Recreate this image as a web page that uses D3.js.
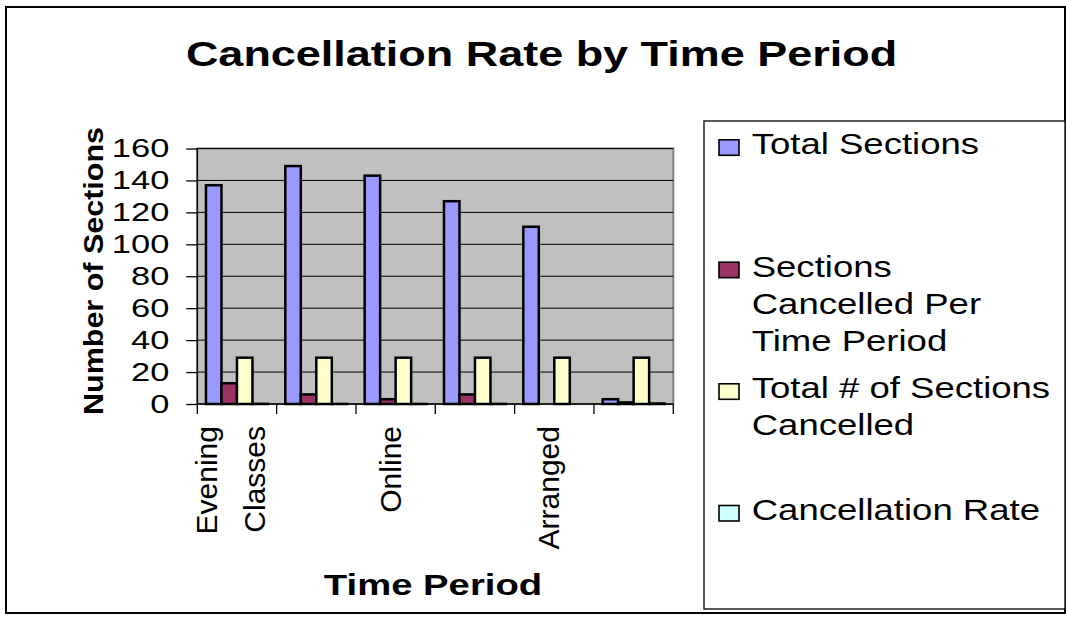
<!DOCTYPE html>
<html>
<head>
<meta charset="utf-8">
<script src="https://cdn.jsdelivr.net/npm/d3@7"></script>
<style>
  html, body { margin: 0; padding: 0; background: #ffffff; }
  svg { display: block; }
  text { font-family: "Liberation Sans", Arial, sans-serif; fill: #000; }
</style>
</head>
<body>
<svg id="chart" width="1066" height="637"></svg>
<script>
// ---------- data ----------
const categories = ["Evening Classes", "", "Online", "", "Arranged", ""];
const seriesNames = ["Total Sections", "Sections Cancelled Per Time Period", "Total # of Sections Cancelled", "Cancellation Rate"];
const totalSections = [137, 149, 143, 127, 111, 3];
const cancelledPerPeriod = [13, 6, 3, 6, 0, 1];
const totalCancelled = [29, 29, 29, 29, 29, 29];
const cancellationRate = [0.09, 0.04, 0.02, 0.05, 0, 0.33];
const yTicks = [0, 20, 40, 60, 80, 100, 120, 140, 160];
const seriesColors = ["#9999FF", "#993366", "#FFFFCC", "#CCFFFF"];
const legendLines = [["Total Sections"], ["Sections", "Cancelled Per", "Time Period"], ["Total # of Sections", "Cancelled"], ["Cancellation Rate"]];

const seriesValues = [totalSections, cancelledPerPeriod, totalCancelled, cancellationRate];

// ---------- layout ----------
const svg = d3.select("#chart");
const plot = { left: 197.3, right: 673.3, top: 148.5, bottom: 404 };

// outer chart border
svg.append("rect").attr("x", 6).attr("y", 7).attr("width", 1059).attr("height", 606)
  .attr("fill", "#fff").attr("stroke", "#000").attr("stroke-width", 2);

function stretchedText(parent, str, x, y, size, weight, sx, anchor) {
  return parent.append("text")
    .attr("transform", `translate(${x},${y}) scale(${sx},1)`)
    .attr("text-anchor", anchor)
    .attr("font-size", size)
    .attr("font-weight", weight)
    .text(str);
}

// title
stretchedText(svg, "Cancellation Rate by Time Period", 541.5, 65.7, 35, "bold", 1.285, "middle");

// scales
const x0 = d3.scaleBand().domain(d3.range(categories.length)).range([plot.left, plot.right]).paddingInner(0).paddingOuter(0);
const x1 = d3.scaleBand().domain(d3.range(seriesNames.length)).range([0, x0.bandwidth()]).paddingInner(0).paddingOuter(0.56);
const y = d3.scaleLinear().domain([0, 160]).range([plot.bottom, plot.top]);

// plot area
svg.append("rect").attr("x", plot.left).attr("y", plot.top)
  .attr("width", plot.right - plot.left).attr("height", plot.bottom - plot.top)
  .attr("fill", "#C0C0C0").attr("stroke", "#808080").attr("stroke-width", 2);

// gridlines
svg.append("g").selectAll("line").data(yTicks.filter(t => t > 0)).join("line")
  .attr("x1", plot.left).attr("x2", plot.right)
  .attr("y1", d => y(d)).attr("y2", d => y(d))
  .attr("stroke", "#000").attr("stroke-width", 1);

// bars
const groups = svg.append("g").selectAll("g").data(categories.map((c, i) => i)).join("g")
  .attr("transform", i => `translate(${x0(i)},0)`);
groups.selectAll("rect").data(i => seriesValues.map((vals, s) => ({ s, v: vals[i] }))).join("rect")
  .attr("x", d => x1(d.s))
  .attr("width", x1.bandwidth())
  .attr("y", d => y(d.v))
  .attr("height", d => y(0) - y(d.v))
  .attr("fill", d => seriesColors[d.s])
  .attr("stroke", "#000").attr("stroke-width", 2.5);

// y axis
const yAxis = d3.axisLeft(y).tickValues(yTicks).tickSize(11).tickFormat("");
const yg = svg.append("g").attr("transform", `translate(${plot.left},0)`).call(yAxis);
yg.selectAll("path,line").attr("stroke", "#000").attr("stroke-width", 1.3);
yg.select("path.domain").attr("d", `M0,${plot.top}V${plot.bottom}`);
yTicks.forEach(t => {
  stretchedText(svg, String(t), 169.3, y(t) + 8.5, 26.5, "normal", 1.3, "end");
});

// x axis
const xBoundaries = d3.range(categories.length + 1).map(i => plot.left + i * x0.step());
const xg = svg.append("g");
xg.append("line").attr("x1", plot.left).attr("x2", plot.right).attr("y1", plot.bottom).attr("y2", plot.bottom)
  .attr("stroke", "#000").attr("stroke-width", 1.5);
xg.selectAll("line.tick").data(xBoundaries).join("line").attr("class", "tick")
  .attr("x1", d => d).attr("x2", d => d).attr("y1", plot.bottom).attr("y2", plot.bottom + 10)
  .attr("stroke", "#000").attr("stroke-width", 1.3);

// category labels (rotated, Excel shows every other one)
categories.forEach((c, i) => {
  if (!c) return;
  const cx = x0(i) + x0.bandwidth() / 2;
  const words = c.split(" ");
  let baselines;
  if (words.length === 2) baselines = [cx - 20.3, cx + 28.5];
  else baselines = [cx + 5];
  words.forEach((w, k) => {
    svg.append("text")
      .attr("transform", `translate(${baselines[k]},426) rotate(-90)`)
      .attr("text-anchor", "end")
      .attr("font-size", 30)
      .text(w);
  });
});

// axis titles
svg.append("text")
  .attr("transform", `translate(103,271) rotate(-90)`)
  .attr("text-anchor", "middle")
  .attr("font-size", 28).attr("font-weight", "bold")
  .attr("textLength", 288).attr("lengthAdjust", "spacingAndGlyphs")
  .text("Number of Sections");
stretchedText(svg, "Time Period", 433, 595, 29, "bold", 1.32, "middle");

// legend
svg.append("rect").attr("x", 704).attr("y", 121).attr("width", 361).attr("height", 488)
  .attr("fill", "#fff").attr("stroke", "#222").attr("stroke-width", 1.5);
const legendFirstBaselines = [154.3, 276.7, 398.3, 520];
const lineGap = 37;
legendLines.forEach((lines, s) => {
  const b = legendFirstBaselines[s];
  svg.append("rect").attr("x", 719).attr("y", b - 14.5).attr("width", 20).attr("height", 15.5)
    .attr("fill", seriesColors[s]).attr("stroke", "#000").attr("stroke-width", 1.6);
  lines.forEach((ln, k) => {
    stretchedText(svg, ln, 751.7, b + k * lineGap, 29, "normal", 1.26, "start");
  });
});
</script>
</body>
</html>
